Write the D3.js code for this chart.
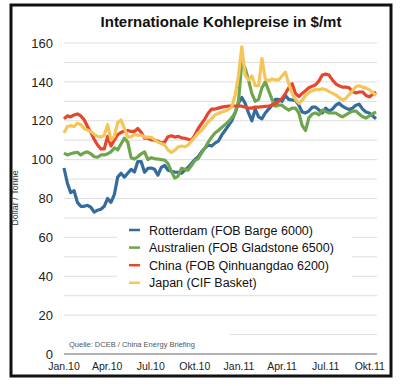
<!DOCTYPE html>
<html>
<head>
<meta charset="utf-8">
<script src="https://cdn.jsdelivr.net/npm/d3@7"></script>
<style>
  body { margin: 0; background: #fff; }
  svg { display: block; font-family: "Liberation Sans", Arial, sans-serif; }
</style>
</head>
<body>
<script>
// weekly price dates
var dates = [
  "2010-01-01","2010-01-08","2010-01-15","2010-01-22","2010-01-29","2010-02-05","2010-02-12","2010-02-19",
  "2010-02-26","2010-03-05","2010-03-12","2010-03-19","2010-03-26","2010-04-02","2010-04-09","2010-04-16",
  "2010-04-23","2010-04-30","2010-05-07","2010-05-14","2010-05-21","2010-05-28","2010-06-04","2010-06-11",
  "2010-06-18","2010-06-25","2010-07-02","2010-07-09","2010-07-16","2010-07-23","2010-07-30","2010-08-06",
  "2010-08-13","2010-08-20","2010-08-27","2010-09-03","2010-09-10","2010-09-17","2010-09-24","2010-10-01",
  "2010-10-08","2010-10-15","2010-10-22","2010-10-29","2010-11-05","2010-11-12","2010-11-19","2010-11-26",
  "2010-12-03","2010-12-10","2010-12-17","2010-12-24","2010-12-31","2011-01-07","2011-01-14","2011-01-21",
  "2011-01-28","2011-02-04","2011-02-11","2011-02-18","2011-02-25","2011-03-04","2011-03-11","2011-03-18",
  "2011-03-25","2011-04-01","2011-04-08","2011-04-15","2011-04-22","2011-04-29","2011-05-06","2011-05-13",
  "2011-05-20","2011-05-27","2011-06-03","2011-06-10","2011-06-17","2011-06-24","2011-07-01","2011-07-08",
  "2011-07-15","2011-07-22","2011-07-29","2011-08-05","2011-08-12","2011-08-19","2011-08-26","2011-09-02",
  "2011-09-09","2011-09-16","2011-09-23","2011-09-30","2011-10-07","2011-10-14"
];

var rotterdam = [
  95.7, 88, 83, 84, 78, 76, 76, 76.5, 75.5, 73, 74, 74.5, 76, 80, 78, 82,
  91, 93, 91, 93, 95, 93.6, 99, 99, 93.5, 95.5, 95.7, 95, 92, 96, 97, 94.6,
  94, 93.6, 93.5, 93, 94.5, 96, 98, 100, 101.5, 104, 106, 107.5, 107, 108.5, 109.5, 112.6,
  115, 117.5, 120, 124, 129, 132, 129, 124, 120, 126, 122, 121, 124, 126, 128, 131,
  131, 130, 133, 131, 130.7, 130.5, 128, 124.5, 124, 125, 127, 127, 125.5, 124, 126.5, 125,
  126, 128, 129, 127.5, 126.5, 125.8, 126.5, 128, 128.5, 126, 124.5, 124, 122.5, 121
];

var australien = [
  103.4, 102.4, 103, 103.5, 103.8, 102.4, 103.5, 104, 103, 101.5, 101.2, 102.4, 102.4, 103, 104, 106,
  105, 108, 111, 109, 101, 100.3, 101.5, 103, 104, 100, 101, 100.5, 100.3, 100, 99.8, 98,
  94, 90.5, 91.5, 95.5, 95, 94.6, 97, 99.5, 100.5, 103.4, 106, 109, 111.5, 113.7, 115, 116.5,
  118, 119.5, 121.5, 124, 130, 150, 147, 141, 134, 130, 131, 137, 140, 135.5, 131, 127.5,
  128, 128, 126.5, 125.5, 126.5, 126.5, 124, 117.5, 115, 121.5, 123.5, 124, 123, 125.5, 124.7, 124,
  124, 124, 122.8, 122, 123, 124, 125, 125, 123.5, 122, 121.4, 122.5, 123.5, 124.5
];

var china = [
  121, 122.5, 122, 123, 123.5, 122.5, 120.5, 117, 114, 110.5, 107.5, 105.5, 105.5, 112, 107, 110,
  112.8, 114, 114.7, 115, 114.5, 114.5, 116, 114, 111, 111, 110.2, 110, 109.5, 108.5, 109, 111.8,
  112.3, 111.6, 112, 111.2, 111, 110.5, 110, 112.6, 116, 118.5, 121, 124, 126, 126, 126.5, 127,
  127.3, 127.5, 127.6, 127.6, 127.6, 127.5, 127, 126.5, 126.5, 127, 127, 127.2, 127.4, 127.6, 128, 128.8,
  130, 131.5, 134, 137, 139, 134, 132.5, 134, 135.5, 137, 137.8, 138.5, 140.5, 143.5, 144, 143.5,
  141, 139, 138, 137.3, 137.3, 137, 135, 134.3, 134.8, 134.8, 133, 132.3, 133.5, 134.8
];

var japan = [
  113.7, 117, 117.5, 117, 118.8, 118, 116, 115.2, 114.5, 113, 112, 111.6, 112.6, 118, 110, 112,
  119, 120.4, 116, 111.6, 111.8, 113, 112.6, 112.6, 111.6, 111.6, 111.5, 110.2, 109, 108.3, 107.5, 105,
  103.6, 104.8, 106.5, 107, 106.6, 107.5, 109.5, 111.5, 113.7, 115, 117.3, 119.5, 121, 123, 123.8, 124.4,
  125, 125.8, 127, 133, 143, 158, 143.5, 141, 143, 138, 138, 152, 141.5, 140.5, 141.5, 141,
  141, 143, 145, 139, 134, 131, 129, 130.5, 133, 134.5, 135.5, 136, 136, 136.5, 136, 135,
  134.2, 133.3, 132, 130.7, 131.5, 133.5, 135.5, 137.5, 138, 137.3, 136.8, 136, 134.5, 133
];

var seriesNames = [
  "Rotterdam (FOB Barge 6000)",
  "Australien (FOB Gladstone 6500)",
  "China (FOB Qinhuangdao 6200)",
  "Japan (CIF Basket)"
];
var seriesColors = ["#356c9e", "#6fa54d", "#e8452d", "#f5c55a"];

var yTicks = [0, 20, 40, 60, 80, 100, 120, 140, 160];
var xTickDates = ["2010-01-01","2010-04-01","2010-07-01","2010-10-01","2011-01-01","2011-04-01","2011-07-01","2011-10-01"];
var xTickLabels = ["Jan.10","Apr.10","Jul.10","Okt.10","Jan.11","Apr.11","Jul.11","Okt.11"];

var titleText = "Internationale Kohlepreise in $/mt";
var yLabel = "Dollar / Tonne";
var sourceText = "Quelle: DCEB / China Energy Briefing";

var width = 400, height = 386;
var parse = d3.timeParse("%Y-%m-%d");

const svg = d3.select("body").append("svg")
  .attr("width", width)
  .attr("height", height);

// frame
svg.append("rect")
  .attr("x", 11).attr("y", 5)
  .attr("width", 380).attr("height", 371)
  .attr("fill", "#fff")
  .attr("stroke", "#111")
  .attr("stroke-width", 3);

const x = d3.scaleTime()
  .domain([parse("2010-01-01"), parse("2011-10-14")])
  .range([64, 376]);

const y = d3.scaleLinear()
  .domain([0, 160])
  .range([354, 43]);

// gridlines every 10
svg.append("g").selectAll("line")
  .data(d3.range(10, 161, 10))
  .enter().append("line")
  .attr("x1", 64).attr("x2", 377)
  .attr("y1", d => y(d)).attr("y2", d => y(d))
  .attr("stroke", "#dedede")
  .attr("stroke-width", 1);

// zero line
svg.append("line")
  .attr("x1", 64).attr("x2", 377)
  .attr("y1", y(0)).attr("y2", y(0))
  .attr("stroke", "#9a9a9a")
  .attr("stroke-width", 1.5);

// y tick labels
svg.append("g").selectAll("text")
  .data(yTicks)
  .enter().append("text")
  .attr("x", 53)
  .attr("y", d => y(d))
  .attr("dy", "0.36em")
  .attr("text-anchor", "end")
  .attr("font-size", 13)
  .attr("fill", "#222")
  .text(d => d);

// x tick labels
svg.append("g").selectAll("text")
  .data(xTickDates)
  .enter().append("text")
  .attr("x", d => x(parse(d)))
  .attr("y", 370)
  .attr("text-anchor", "middle")
  .attr("font-size", 10.5)
  .attr("fill", "#222")
  .text((d, i) => xTickLabels[i]);

// y axis label
svg.append("text")
  .attr("transform", "translate(18,198) rotate(-90)")
  .attr("text-anchor", "middle")
  .attr("font-size", 9)
  .attr("fill", "#333")
  .text(yLabel);

// title
svg.append("text")
  .attr("x", 221).attr("y", 27)
  .attr("text-anchor", "middle")
  .attr("font-size", 15)
  .attr("font-weight", "bold")
  .attr("fill", "#111")
  .text(titleText);

// lines
const allSeries = [rotterdam, australien, china, japan];
const line = d3.line()
  .x((d, i) => x(parse(dates[i])))
  .y(d => y(d));

const plot_g = svg.append("g");
plot_g.selectAll("path")
  .data(allSeries)
  .enter().append("path")
  .attr("d", d => line(d))
  .attr("fill", "none")
  .attr("stroke", (d, i) => seriesColors[i])
  .attr("stroke-width", 3.2)
  .attr("stroke-linejoin", "round");

// legend box
const legend_g = svg.append("g");
legend_g.append("rect")
  .attr("x", 117).attr("y", 221)
  .attr("width", 235).attr("height", 70)
  .attr("fill", "#fff");

const items = legend_g.selectAll("g.item")
  .data(seriesNames)
  .enter().append("g")
  .attr("class", "item")
  .attr("transform", (d, i) => `translate(0,${230 + i * 17.6})`);

items.append("line")
  .attr("x1", 129).attr("x2", 140)
  .attr("y1", 0).attr("y2", 0)
  .attr("stroke", (d, i) => seriesColors[i])
  .attr("stroke-width", 2.5);

items.append("text")
  .attr("x", 149)
  .attr("y", 0)
  .attr("dy", "0.36em")
  .attr("font-size", 12.5)
  .attr("fill", "#111")
  .text(d => d);

// source note
svg.append("rect")
  .attr("x", 64).attr("y", 329)
  .attr("width", 166).attr("height", 20)
  .attr("fill", "#fff");

svg.append("text")
  .attr("x", 69).attr("y", 347)
  .attr("font-size", 7.5)
  .attr("fill", "#555")
  .text(sourceText);
</script>
</body>
</html>
